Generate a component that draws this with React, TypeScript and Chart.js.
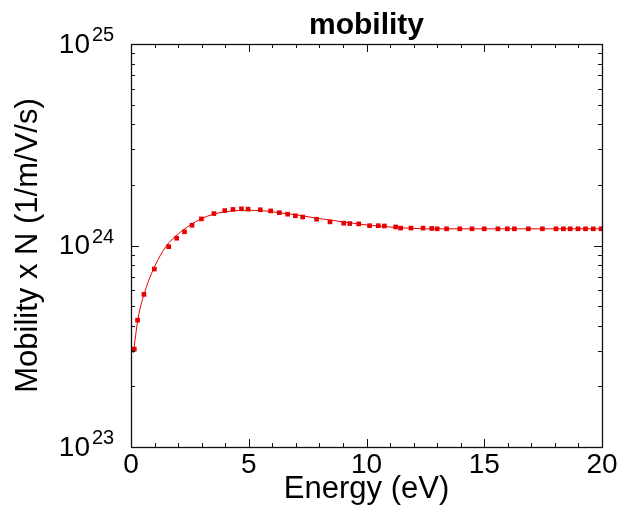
import React, { useEffect, useRef } from "react";
import { Chart, registerables } from "chart.js";

Chart.register(...registerables);

// Measured points (Energy in eV, Mobility x N in 1/m/V/s)
const energies = [
  0.14, 0.28, 0.55, 0.99, 1.6, 1.94, 2.27, 2.59, 2.99, 3.52, 3.98, 4.33, 4.69, 4.97,
  5.49, 5.93, 6.3, 6.65, 6.98, 7.29, 7.88, 8.45, 9.03, 9.29, 9.67, 10.13, 10.5, 10.76,
  11.24, 11.45, 11.89, 12.4, 12.77, 13.0, 13.4, 13.96, 14.48, 15.0, 15.58, 15.98, 16.28,
  16.87, 17.47, 18.05, 18.36, 18.65, 18.98, 19.3, 19.63, 19.96,
];
const mobility = [
  3.06e23, 4.26e23, 5.72e23, 7.64e23, 9.87e23, 1.087e24, 1.17e24, 1.26e24, 1.355e24,
  1.44e24, 1.49e24, 1.51e24, 1.52e24, 1.515e24, 1.505e24, 1.485e24, 1.455e24, 1.43e24,
  1.405e24, 1.385e24, 1.35e24, 1.31e24, 1.29e24, 1.285e24, 1.28e24, 1.254e24, 1.254e24,
  1.25e24, 1.236e24, 1.22e24, 1.22e24, 1.22e24, 1.215e24, 1.21e24, 1.21e24, 1.21e24,
  1.21e24, 1.21e24, 1.21e24, 1.21e24, 1.21e24, 1.21e24, 1.21e24, 1.21e24, 1.21e24,
  1.21e24, 1.21e24, 1.21e24, 1.21e24, 1.21e24,
];

// Fitted curve
const fitEnergies = [0.1, 0.3, 0.6, 1, 1.5, 2, 2.5, 3, 3.5, 4, 4.5, 5, 5.5, 6, 7, 8, 9, 10, 11, 12, 13, 14, 16, 18, 20];
const fitMobility = [
  2.93e23, 4.35e23, 5.95e23, 7.85e23, 9.95e23, 1.14e24, 1.26e24, 1.36e24, 1.43e24,
  1.47e24, 1.49e24, 1.495e24, 1.49e24, 1.47e24, 1.42e24, 1.36e24, 1.31e24, 1.265e24,
  1.235e24, 1.215e24, 1.21e24, 1.21e24, 1.21e24, 1.21e24, 1.21e24,
];

const yDecades = [23, 24, 25];
const titleText = "mobility";
const xTitle = "Energy (eV)";
const yTitle = "Mobility x N (1/m/V/s)";

const FONT = "'Liberation Sans', Arial, Helvetica, sans-serif";
const RED = "#e60000";

const framePlugin = {
  id: "frame",
  afterDraw(chart: any) {
    const { ctx, chartArea: a, scales } = chart;
    const xs = scales.x;
    const ys = scales.y;
    ctx.save();
    ctx.strokeStyle = "#111";
    ctx.lineWidth = 1.3;
    ctx.strokeRect(a.left + 0.5, a.top + 0.5, a.right - a.left, a.bottom - a.top);
    ctx.lineWidth = 1;
    ctx.beginPath();
    for (let e = 1; e < 20; e++) {
      const len = e % 5 === 0 ? 8 : 4;
      const px = Math.round(xs.getPixelForValue(e)) + 0.5;
      ctx.moveTo(px, a.bottom);
      ctx.lineTo(px, a.bottom - len);
      ctx.moveTo(px, a.top);
      ctx.lineTo(px, a.top + len);
    }
    for (let d = 23; d < 25; d++) {
      for (let k = 1; k <= 9; k++) {
        if (d === 23 && k === 1) continue;
        const v = k * Math.pow(10, d);
        const len = k === 1 ? 8 : 4;
        const py = Math.round(ys.getPixelForValue(v)) + 0.5;
        ctx.moveTo(a.left, py);
        ctx.lineTo(a.left + len, py);
        ctx.moveTo(a.right, py);
        ctx.lineTo(a.right - len, py);
      }
    }
    ctx.stroke();

    // y tick labels 10^n
    ctx.fillStyle = "#000";
    for (const d of yDecades) {
      const py = ys.getPixelForValue(Math.pow(10, d));
      ctx.font = `28px ${FONT}`;
      ctx.textAlign = "right";
      ctx.textBaseline = "middle";
      ctx.fillText("10", 90, py + 1);
      ctx.font = `20px ${FONT}`;
      ctx.textAlign = "left";
      ctx.textBaseline = "alphabetic";
      ctx.fillText(String(d), 92, py - 3);
    }
    ctx.restore();
  },
};

export default function App() {
  const ref = useRef<HTMLCanvasElement>(null);
  useEffect(() => {
    if (!ref.current) return;
    const chart = new Chart(ref.current, {
      type: "scatter",
      data: {
        datasets: [
          {
            type: "line",
            data: fitEnergies.map((e, i) => ({ x: e, y: fitMobility[i] })),
            borderColor: RED,
            borderWidth: 1,
            pointRadius: 0,
            cubicInterpolationMode: "monotone",
            fill: false,
          } as any,
          {
            data: energies.map((e, i) => ({ x: e, y: mobility[i] })),
            backgroundColor: RED,
            borderColor: RED,
            borderWidth: 0,
            pointStyle: "rect",
            pointRadius: 3.3,
          },
        ],
      },
      options: {
        animation: false,
        responsive: false,
        layout: { padding: { left: 0, right: 18, top: 0, bottom: 0 } },
        plugins: {
          legend: { display: false },
          tooltip: { enabled: false },
          title: {
            display: true,
            text: titleText,
            fullSize: false,
            color: "#000",
            font: { family: FONT, size: 30, weight: "bold", lineHeight: 1 },
            padding: { top: 10.6, bottom: 3.4 },
          } as any,
        },
        scales: {
          x: {
            type: "linear",
            min: 0,
            max: 20,
            grid: { display: false, drawTicks: false },
            border: { display: false },
            ticks: {
              stepSize: 5,
              color: "#000",
              font: { family: FONT, size: 28 },
              padding: 1,
              maxRotation: 0,
              autoSkip: false,
            },
            title: {
              display: true,
              text: xTitle,
              color: "#000",
              font: { family: FONT, size: 31, lineHeight: 1 },
              padding: { top: 0, bottom: 0 },
            },
            afterFit(scale: any) {
              scale.height = 58;
            },
          },
          y: {
            type: "logarithmic",
            min: 1e23,
            max: 1e25,
            grid: { display: false, drawTicks: false },
            border: { display: false },
            ticks: { display: false },
            title: {
              display: true,
              text: yTitle,
              color: "#000",
              font: { family: FONT, size: 31, lineHeight: 1 },
              padding: { top: 12.5, bottom: 0 },
            },
            afterFit(scale: any) {
              scale.width = 131;
            },
          },
        },
      } as any,
      plugins: [framePlugin],
    });
    return () => chart.destroy();
  }, []);
  return (
    <div style={{ position: "absolute", left: 0, top: 0, width: 620, height: 505, background: "#fff" }}>
      <canvas ref={ref} width={620} height={505} />
    </div>
  );
}
